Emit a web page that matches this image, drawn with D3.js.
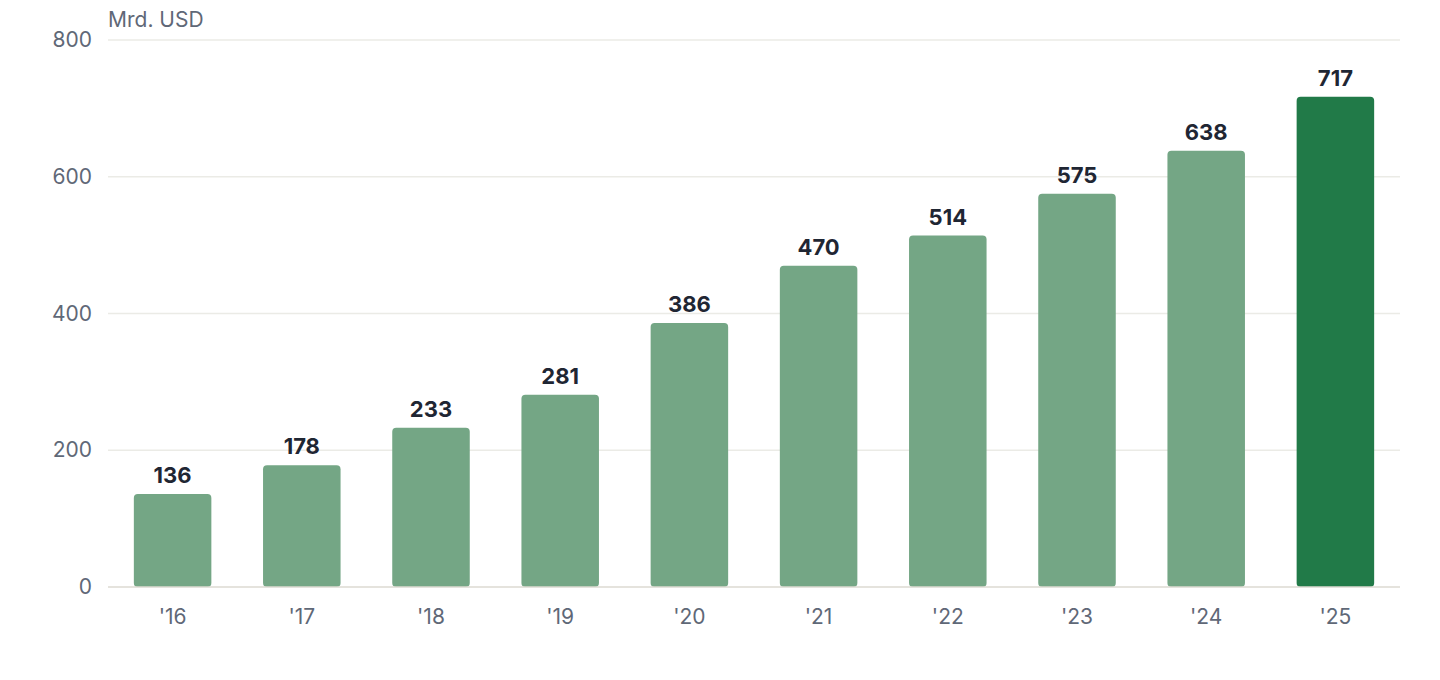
<!DOCTYPE html>
<html>
<head>
<meta charset="utf-8">
<script src="https://cdn.jsdelivr.net/npm/d3@7"></script>
<style>
  body { margin: 0; background: #fff; }
  svg text { font-family: Inter, "Noto Sans", sans-serif; }
</style>
</head>
<body>
<div id="chart"></div>
<script>
const w = 1440;
const h = 680;
const margin = {top: 40, right: 40, bottom: 93, left: 108};

const years = ["'16", "'17", "'18", "'19", "'20", "'21", "'22", "'23", "'24", "'25"];
const values = [136, 178, 233, 281, 386, 470, 514, 575, 638, 717];
const yTicks = [0, 200, 400, 600, 800];
const unitLabel = "Mrd. USD";

const svg = d3.select("#chart")
    .append("svg")
    .attr("width", w)
    .attr("height", h);

const xScale = d3.scaleBand()
    .domain(years)
    .range([margin.left, w - margin.right])
    .paddingInner(0.4)
    .paddingOuter(0.2);

const yScale = d3.scaleLinear()
    .domain([0, 800])
    .range([h - margin.bottom, margin.top]);

// grid
svg.append("g")
    .selectAll("line")
    .data(yTicks.filter(d => d > 0))
    .enter()
    .append("line")
    .attr("x1", margin.left)
    .attr("x2", w - margin.right)
    .attr("y1", d => yScale(d))
    .attr("y2", d => yScale(d))
    .attr("stroke", "#ebebe6")
    .attr("stroke-width", 1.5);

let yAxis = d3.axisLeft(yScale)
    .tickValues(yTicks)
    .tickSize(0)
    .tickPadding(16);

const yG = svg.append("g")
    .attr("transform", "translate(" + margin.left + ", 0)")
    .call(yAxis);
yG.select(".domain").remove();
yG.selectAll("text")
    .attr("fill", "#5f6877")
    .style("font-size", "21px");

svg.append("text")
    .attr("x", margin.left)
    .attr("y", 27)
    .attr("fill", "#5f6877")
    .style("font-size", "21px")
    .text(unitLabel);

// bars
svg.selectAll(".bar")
    .data(values)
    .enter()
    .append("rect")
    .attr("class", "bar")
    .attr("x", (d, i) => xScale(years[i]))
    .attr("y", d => yScale(d))
    .attr("width", xScale.bandwidth())
    .attr("height", d => yScale(0) - yScale(d))
    .attr("rx", 4)
    .attr("fill", (d, i) => i == values.length - 1 ? "#217a48" : "#74a685");

svg.selectAll(".val")
    .data(values)
    .enter()
    .append("text")
    .attr("class", "val")
    .attr("x", (d, i) => xScale(years[i]) + xScale.bandwidth() / 2)
    .attr("y", d => yScale(d) - 11)
    .attr("text-anchor", "middle")
    .attr("fill", "#1f2633")
    .style("font-size", "22px")
    .style("font-weight", "700")
    .text(d => d);

// baseline
svg.append("line")
    .attr("x1", margin.left)
    .attr("x2", w - margin.right)
    .attr("y1", yScale(0))
    .attr("y2", yScale(0))
    .attr("stroke", "#dcdad2")
    .attr("stroke-width", 1.5);

let xAxis = d3.axisBottom(xScale)
    .tickSize(0)
    .tickPadding(22);

const xG = svg.append("g")
    .attr("transform", "translate(0, " + yScale(0) + ")")
    .call(xAxis);
xG.select(".domain").remove();
xG.selectAll("text")
    .attr("fill", "#5f6877")
    .style("font-size", "21px");
</script>
</body>
</html>
